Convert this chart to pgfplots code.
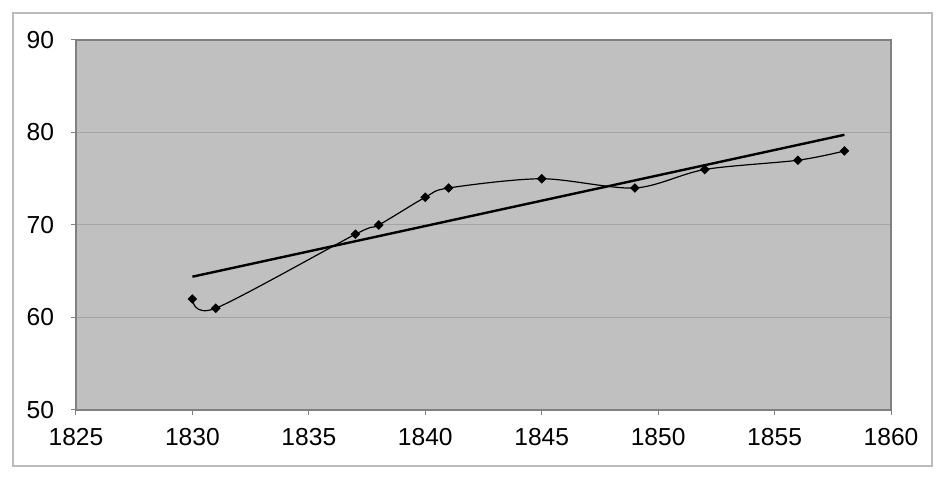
\documentclass[border=0pt]{standalone}
\usepackage{pgfplots}
\pgfplotsset{compat=1.18}
\usetikzlibrary{calc}
\usepackage{fontspec}
\setmainfont{Liberation Sans}
\definecolor{plotbg}{HTML}{C0C0C0}
\definecolor{gridc}{HTML}{A4A4A4}
\definecolor{axisc}{HTML}{808080}
\definecolor{framec}{HTML}{BBBBBB}
\begin{document}
\begin{tikzpicture}[x=1pt,y=1pt]
\begin{axis}[
  name=ax,
  scale only axis,
  width=407.5pt, height=185pt,
  xmin=1825, xmax=1860, ymin=50, ymax=90,
  xtick={1825,1830,...,1860},
  ytick={50,60,...,90},
  xtick pos=bottom, ytick pos=left,
  /pgf/number format/1000 sep={},
  /pgf/number format/assume math mode=true,
  tick label style={font=\fontsize{12.3}{14}\selectfont, black},
  tick align=outside,
  major tick length=2.5pt,
  tick style={axisc, line width=0.5pt},
  axis line style={axisc, line width=0.8pt},
  axis background/.style={fill=plotbg},
  ymajorgrids,
  major grid style={gridc, line width=0.5pt},
  xticklabel style={yshift=-3pt},
  yticklabel style={xshift=-5pt},
  clip=false,
]
\addplot[black, line width=0.6pt, smooth, tension=0.5, mark=square*, mark size=1.4pt, mark options={fill=black, rotate=45}]
  coordinates {
  (1830,62) (1831,61) (1837,69) (1838,70) (1840,73) (1841,74)
  (1845,75) (1849,74) (1852,76) (1856,77) (1858,78)
  };
\addplot[black, line width=1.2pt] coordinates {(1830,64.41) (1858,79.75)};
\end{axis}
\draw[framec, line width=0.6pt] ($(ax.south west)+(-31.5pt,-28pt)$) rectangle ($(ax.north east)+(20.5pt,13.5pt)$);
\useasboundingbox ($(ax.south west)+(-38pt,-34pt)$) rectangle ($(ax.north east)+(24.5pt,20pt)$);
\end{tikzpicture}
\end{document}
